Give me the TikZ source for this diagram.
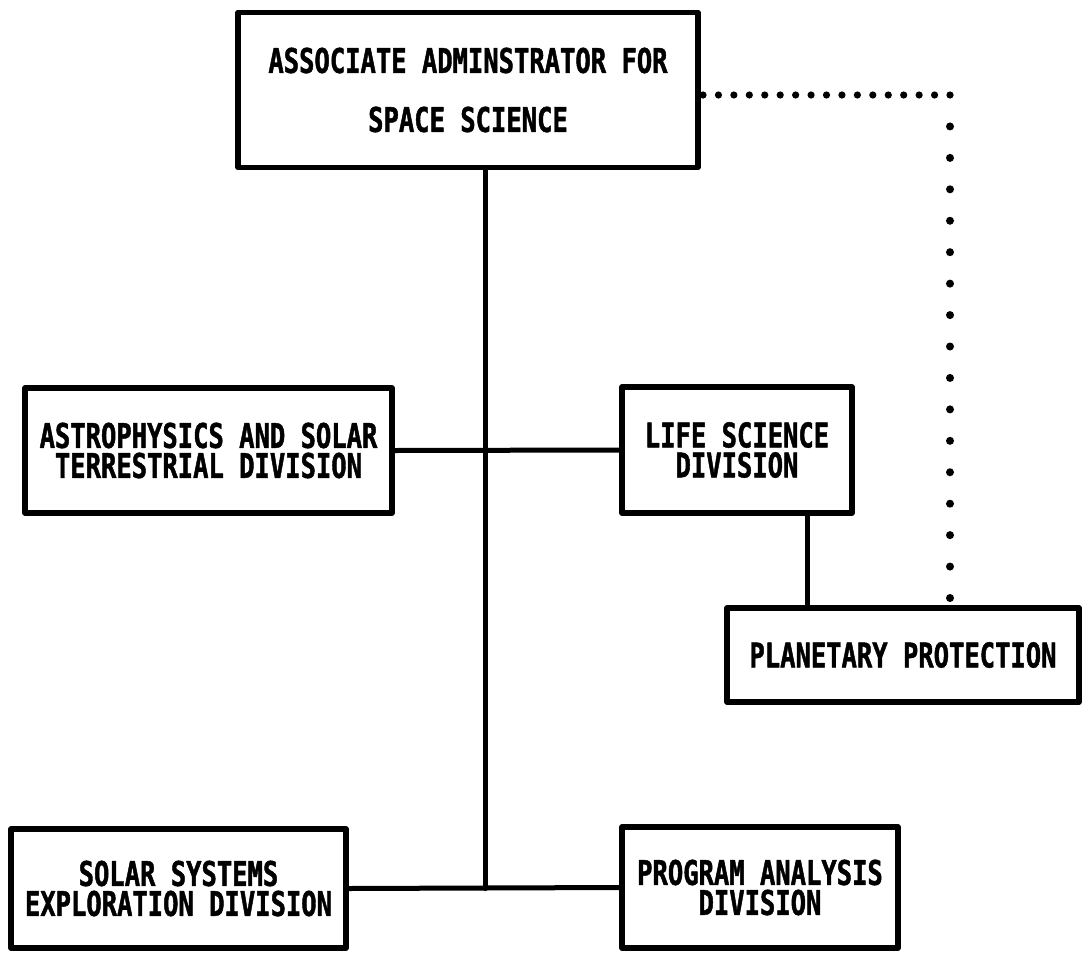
\documentclass[tikz,border=0pt]{standalone}
\usepackage{fontspec}
\usetikzlibrary{calc}
\newfontfamily\orgfont{DejaVu Sans Mono}[FakeStretch=0.75, BoldFeatures={FakeBold=1.3}]
\tikzset{
  orgbox/.style={draw, line width=5.5pt, line join=round, rectangle, inner sep=0pt,
    align=center, font=\orgfont\bfseries\fontsize{34}{30}\selectfont},
  link/.style={line width=5pt, line cap=round},
  dotmark/.style={fill=black}
}
\begin{document}
\begin{tikzpicture}[x=1pt, y=-1pt]
\useasboundingbox[fill=white] (0,0) rectangle (1082,956);
\node[orgbox, minimum width=460pt, minimum height=155pt, font=\orgfont\bfseries\fontsize{34}{59}\selectfont] (aa) at (468,90) {ASSOCIATE ADMINSTRATOR FOR\\SPACE SCIENCE};
\node[orgbox, minimum width=367pt, minimum height=125pt] (astro) at (208.5,450.5) {ASTROPHYSICS AND SOLAR\\TERRESTRIAL DIVISION};
\node[orgbox, minimum width=230pt, minimum height=126pt] (life) at (737,450) {LIFE SCIENCE\\DIVISION};
\node[orgbox, minimum width=352pt, minimum height=94pt] (plan) at (903,655) {PLANETARY PROTECTION};
\node[orgbox, minimum width=335pt, minimum height=119pt] (sse) at (178.5,888.5) {SOLAR SYSTEMS\\EXPLORATION DIVISION};
\node[orgbox, minimum width=276pt, minimum height=121pt] (pad) at (760,887.5) {PROGRAM ANALYSIS\\DIVISION};
% trunk
\coordinate (ja) at (aa.south -| 485,0);
\coordinate (jb) at (ja |- sse.east);
\draw[link] (ja) -- (jb);
\draw[link] (astro.east) -- (life.west);
\draw[link] (sse.east) -- (pad.west);
\draw[link] (life.south -| 807,0) -- (plan.north -| 807,0);
% dotted relation
\coordinate (d0) at (703,95);
\coordinate (d1) at (950,95);
\coordinate (d2) at (950,598);
\foreach \i in {0,...,16} \fill[dotmark] ($(d0)!\i/16!(d1)$) circle (3.6pt);
\foreach \i in {1,...,16} \fill[dotmark] ($(d1)!\i/16!(d2)$) circle (4pt);
\end{tikzpicture}
\end{document}
